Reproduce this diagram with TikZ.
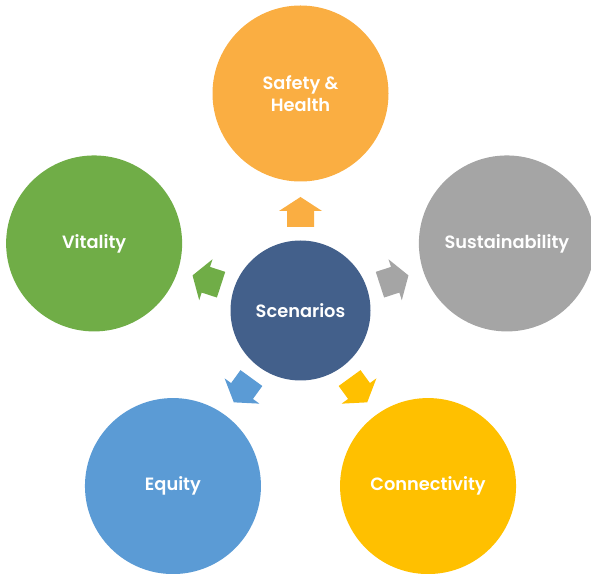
\documentclass[tikz,border=0pt]{standalone}
\usepackage{fontspec}
\setmainfont{Poppins}[BoldFont={Poppins SemiBold}]
\usetikzlibrary{calc}
\definecolor{hubblue}{HTML}{43608B}
\definecolor{cOrange}{HTML}{FAAE42}
\definecolor{cGrey}{HTML}{A5A5A5}
\definecolor{cGreen}{HTML}{70AD47}
\definecolor{cBlue}{HTML}{5B9BD5}
\definecolor{cYellow}{HTML}{FFC000}
\begin{document}
\begin{tikzpicture}[x=1pt,y=1pt,
  label font/.style={text=white, font=\bfseries\fontsize{17.8}{22}\selectfont},
  hub/.style={circle, fill=hubblue, minimum size=140pt, inner sep=0pt, label font},
  spoke/.style={circle, minimum size=176pt, inner sep=0pt, align=center, label font},
]
\useasboundingbox (0,0) rectangle (591,573);
% central circle
\node[hub] (hub) at (300.5,262.5) {Scenarios};
% outer circles with a block arrow pointing from the hub towards each
\foreach \name/\ang/\col/\txt in {
    safety/90/cOrange/{Safety \&\\Health},
    sustain/18/cGrey/{Sustainability},
    connect/-54/cYellow/{Connectivity},
    equity/-126/cBlue/{Equity},
    vitality/162/cGreen/{Vitality}} {
  \node[spoke, fill=\col] (\name) at ($(hub.center)+(\ang:217)$) {\txt};
  \fill[\col, shift={($(hub.center)!0.454!(\name.center)$)}, rotate=\ang]
    (-15,-13.5) -- (1,-13.5) -- (1,-21.5) -- (15,0) -- (1,21.5) -- (1,13.5) -- (-15,13.5) -- cycle;
}
\end{tikzpicture}
\end{document}
